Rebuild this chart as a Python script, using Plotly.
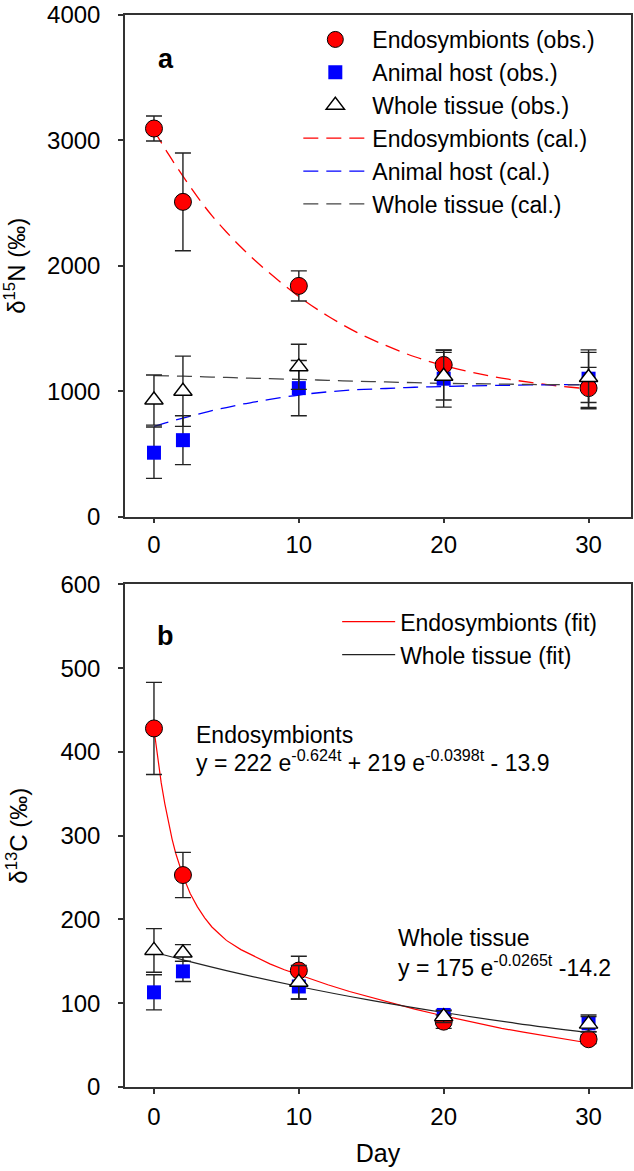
import plotly.graph_objects as go

# ---------------- data: panel a (delta 15N) ----------------
days_obs = [0, 2, 10, 20, 30]
endo_n = [3095, 2510, 1840, 1210, 1025]
endo_n_err = [100, 390, 120, 120, 165]
host_n = [510, 610, 1025, 1100, 1100]
host_n_err = [205, 195, 220, 227, 230]
whole_n = [930, 1000, 1195, 1120, 1110]
whole_n_err = [200, 280, 180, 190, 200]

days_cal = [0, 1, 2, 3, 4, 5, 6, 7, 8, 10, 12, 14, 16, 18, 20, 22, 24, 26, 28, 30]
endo_cal = [3080, 2890, 2715, 2550, 2400, 2270, 2150, 2040, 1940, 1755, 1600,
            1470, 1365, 1275, 1205, 1150, 1105, 1070, 1040, 1020]
host_cal = [720, 755, 786, 815, 845, 870, 895, 915, 935, 970, 995,
            1012, 1022, 1032, 1038, 1043, 1047, 1050, 1052, 1053]
whole_cal = [1125, 1123, 1120, 1117, 1113, 1110, 1106, 1103, 1100, 1094, 1087,
             1080, 1074, 1068, 1063, 1060, 1057, 1054, 1052, 1050]

# ---------------- data: panel b (delta 13C) ----------------
endo_c = [428, 253, 139, 78, 57]
endo_c_err = [55, 27, 17, 8, 5]
host_c = [113, 138, 120, 86, 76]
host_c_err = [21, 12, 15, 6, 10]
whole_c = [163, 160, 125, 84, 75]
whole_c_err = [26, 10, 20, 7, 9]

days_fit = [0, 0.25, 0.5, 0.75, 1, 1.25, 1.5, 1.75, 2, 2.5, 3, 3.5, 4, 4.5, 5, 6, 7, 8, 9,
            10, 11, 12, 13.5, 15, 16.5, 18, 19.5, 21, 22.5, 24, 25.5, 27, 28.5, 30]
endo_fit = [427, 393, 363, 338, 316, 296, 279, 265, 252, 231, 215, 202, 191, 183, 175,
            164, 155, 147, 140, 134, 127.5, 122, 114, 107, 99.7, 93, 86.8, 81, 75.5,
            70, 65.5, 61, 56.5, 52.5]
days_fit_w = [0, 2, 5, 10, 15, 20, 25, 30]
whole_fit = [160.8, 151.8, 139, 120, 103.4, 88.9, 76, 64.9]

x_ticks = [0, 10, 20, 30]

FONT = "Arial, 'Liberation Sans', sans-serif"
RED = "#ff0000"
BLUE = "#0000ff"
ERR = "#222222"
AX = "#333333"

fig = go.Figure()

def err(arr):
    return dict(type="data", array=arr, visible=True, color=ERR, thickness=1.4, width=8)

# panel a lines
fig.add_trace(go.Scatter(x=days_cal, y=endo_cal, mode="lines", name="Endosymbionts (cal.)",
                         line=dict(color=RED, width=1.3, dash="15px,8px", shape="spline"),
                         xaxis="x", yaxis="y", legend="legend", legendrank=4))
fig.add_trace(go.Scatter(x=days_cal, y=host_cal, mode="lines", name="Animal host (cal.)",
                         line=dict(color=BLUE, width=1.3, dash="15px,8px", shape="spline"),
                         xaxis="x", yaxis="y", legend="legend", legendrank=5))
fig.add_trace(go.Scatter(x=days_cal, y=whole_cal, mode="lines", name="Whole tissue (cal.)",
                         line=dict(color="#444444", width=1.3, dash="15px,8px", shape="spline"),
                         xaxis="x", yaxis="y", legend="legend", legendrank=6))
# panel a markers
fig.add_trace(go.Scatter(x=days_obs, y=host_n, mode="markers", name="Animal host (obs.)",
                         marker=dict(symbol="square", size=14, color=BLUE, line=dict(color=BLUE, width=0)),
                         error_y=err(host_n_err), xaxis="x", yaxis="y", legend="legend", legendrank=2))
fig.add_trace(go.Scatter(x=days_obs, y=endo_n, mode="markers", name="Endosymbionts (obs.)",
                         marker=dict(symbol="circle", size=17, color=RED, line=dict(color="black", width=1)),
                         error_y=err(endo_n_err), xaxis="x", yaxis="y", legend="legend", legendrank=1))
fig.add_trace(go.Scatter(x=days_obs, y=whole_n, mode="markers", name="Whole tissue (obs.)",
                         marker=dict(symbol="triangle-up", size=16, color="white", line=dict(color="black", width=1.4)),
                         error_y=err(whole_n_err), xaxis="x", yaxis="y", legend="legend", legendrank=3))

# panel b lines
fig.add_trace(go.Scatter(x=days_fit, y=endo_fit, mode="lines", name="Endosymbionts (fit)",
                         line=dict(color=RED, width=1.2, shape="linear"),
                         xaxis="x2", yaxis="y2", legend="legend2", legendrank=1))
fig.add_trace(go.Scatter(x=days_fit_w, y=whole_fit, mode="lines", name="Whole tissue (fit)",
                         line=dict(color="#222222", width=1.2, shape="spline"),
                         xaxis="x2", yaxis="y2", legend="legend2", legendrank=2))
# panel b markers
fig.add_trace(go.Scatter(x=days_obs, y=host_c, mode="markers", name="Animal host (obs.)", showlegend=False,
                         marker=dict(symbol="square", size=14, color=BLUE, line=dict(color=BLUE, width=0)),
                         error_y=err(host_c_err), xaxis="x2", yaxis="y2"))
fig.add_trace(go.Scatter(x=days_obs, y=endo_c, mode="markers", name="Endosymbionts (obs.)", showlegend=False,
                         marker=dict(symbol="circle", size=17, color=RED, line=dict(color="black", width=1)),
                         error_y=err(endo_c_err), xaxis="x2", yaxis="y2"))
fig.add_trace(go.Scatter(x=days_obs, y=whole_c, mode="markers", name="Whole tissue (obs.)", showlegend=False,
                         marker=dict(symbol="triangle-up", size=16, color="white", line=dict(color="black", width=1.4)),
                         error_y=err(whole_c_err), xaxis="x2", yaxis="y2"))

axis_common = dict(showline=True, linecolor=AX, linewidth=1.5, mirror=True, ticks="outside",
                   ticklen=5, tickwidth=1.5, tickcolor=AX, showgrid=False, zeroline=False,
                   tickfont=dict(family=FONT, size=24, color="black"))

def px2paper(p):
    return (1087 - p) / 1077.0

fig.update_layout(
    width=634, height=1171,
    margin=dict(l=125, r=1, t=10, b=84, pad=0),
    paper_bgcolor="white", plot_bgcolor="white",
    font=dict(family=FONT, color="black"),
    xaxis=dict(domain=[0, 1], anchor="y", range=[-2, 32.93], tickvals=x_ticks,
               ticklabelstandoff=1, **axis_common),
    yaxis=dict(domain=[px2paper(514), 1.0], anchor="x", range=[0, 4000], dtick=1000,
               ticklabelstandoff=13,
               title=dict(text="δ<sup>15</sup>N (‰)", font=dict(family=FONT, size=24), standoff=26),
               **axis_common),
    xaxis2=dict(domain=[0, 1], anchor="y2", range=[-2, 32.93], tickvals=x_ticks,
                ticklabelstandoff=2,
                title=dict(text="Day", font=dict(family=FONT, size=25), standoff=16),
                **axis_common),
    yaxis2=dict(domain=[0, px2paper(582)], anchor="x2", range=[0, 600], dtick=100,
                ticklabelstandoff=13,
                title=dict(text="δ<sup>13</sup>C (‰)", font=dict(family=FONT, size=24), standoff=26),
                **axis_common),
    legend=dict(x=(299 - 125) / 508.0, xanchor="left", y=px2paper(13), yanchor="top",
                bgcolor="rgba(0,0,0,0)", borderwidth=0, itemwidth=64,
                font=dict(family=FONT, size=23, color="black"), tracegroupgap=0),
    legend2=dict(x=(338 - 125) / 508.0, xanchor="left", y=px2paper(598), yanchor="top",
                 bgcolor="rgba(0,0,0,0)", borderwidth=0, itemwidth=53,
                 font=dict(family=FONT, size=23, color="black"), tracegroupgap=0),
    annotations=[
        dict(text="<b>a</b>", xref="paper", yref="paper", x=(166 - 125) / 508.0, y=px2paper(54),
             xanchor="center", yanchor="middle", showarrow=False, font=dict(family=FONT, size=27)),
        dict(text="<b>b</b>", xref="paper", yref="paper", x=(166 - 125) / 508.0, y=px2paper(634),
             xanchor="center", yanchor="middle", showarrow=False, font=dict(family=FONT, size=27)),
        dict(text="Endosymbionts", xref="paper", yref="paper", x=(194 - 125) / 508.0, y=px2paper(733),
             xanchor="left", yanchor="middle", showarrow=False, font=dict(family=FONT, size=23)),
        dict(text="y = 222 e<sup>-0.624t</sup> + 219 e<sup>-0.0398t</sup> - 13.9", xref="paper", yref="paper",
             x=(194 - 125) / 508.0, y=px2paper(759), xanchor="left", yanchor="middle", showarrow=False,
             font=dict(family=FONT, size=23)),
        dict(text="Whole tissue", xref="paper", yref="paper", x=(397 - 125) / 508.0, y=px2paper(937),
             xanchor="left", yanchor="middle", showarrow=False, font=dict(family=FONT, size=23)),
        dict(text="y = 175 e<sup>-0.0265t</sup> -14.2", xref="paper", yref="paper",
             x=(397 - 125) / 508.0, y=px2paper(965), xanchor="left", yanchor="middle", showarrow=False,
             font=dict(family=FONT, size=23)),
    ],
)

fig.write_html("out.html", config={"displayModeBar": False},
               post_script="document.body.style.margin='0px';document.body.style.overflow='hidden';")
